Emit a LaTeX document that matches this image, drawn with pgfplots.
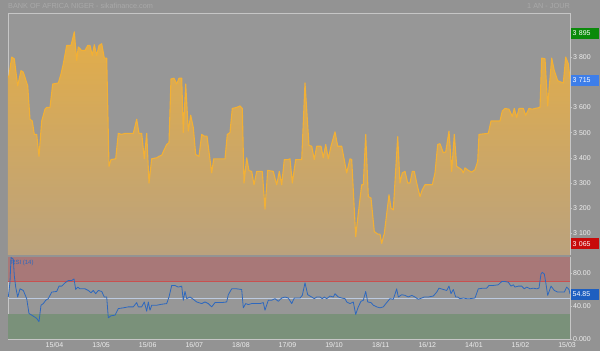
\documentclass[border=0pt]{standalone}
\usepackage{pgfplots}
\pgfplotsset{compat=1.18}
\usepackage{pgfplotstable}
\usepackage{fontspec}
\setmainfont{Liberation Sans}
\definecolor{outerbg}{HTML}{939393}
\definecolor{plotbg}{HTML}{979797}
\definecolor{frame}{HTML}{C6C6C6}
\definecolor{pline}{HTML}{F2B035}
\definecolor{ftop}{HTML}{E3AD48}
\definecolor{fbot}{HTML}{BAA27E}
\definecolor{lbl}{HTML}{EDEDED}
\definecolor{ttl}{HTML}{A9A9A9}
\definecolor{rband}{HTML}{A87878}
\definecolor{gband}{HTML}{7A917A}
\definecolor{rline}{HTML}{C85050}
\definecolor{mline}{HTML}{BCCAE0}
\definecolor{rsiblue}{HTML}{2E68BE}
\definecolor{boxgreen}{HTML}{0A8A0A}
\definecolor{boxblue}{HTML}{3D7EEA}
\definecolor{boxred}{HTML}{C80A0A}
\definecolor{boxrsi}{HTML}{1E5FC0}

\pgfplotstableread{
x y
8 3000
8 3720
9 3726
11.7 3800
14.3 3793
17.7 3686
21 3746
23.3 3740
27.7 3686
30 3553
32.3 3546
34.3 3493
36.7 3493
39 3406
41.7 3546
45 3593
46.7 3600
50 3600
52.7 3693
58.3 3697
61 3733
63.3 3773
66.7 3846
71 3846
74.3 3900
76.7 3786
78.3 3840
81.7 3826
85 3826
87.7 3846
90 3846
92.3 3806
94.3 3849
96.7 3806
99 3846
101.7 3853
104.3 3796
106.7 3796
109 3366
111 3393
115.7 3396
118.3 3497
121.7 3493
125 3497
133.3 3497
136.7 3553
139 3497
141.7 3497
144.3 3396
146.7 3497
149 3300
151.7 3396
156.7 3400
159 3406
161.7 3410
164.3 3433
166.7 3453
169 3460
171 3713
174 3716
176.7 3693
179 3716
181.7 3716
183.3 3500
185.7 3693
188.3 3506
190.7 3569
193.3 3520
195.7 3413
199 3406
201.7 3493
204.3 3486
207 3486
210 3393
211.7 3340
213.7 3396
225 3396
227.3 3493
230 3500
232.3 3596
236.7 3600
240 3606
242.3 3596
244 3300
246.7 3400
249 3349
251.7 3346
254 3293
256.7 3346
262.3 3346
265 3196
267.7 3350
273.3 3346
276.7 3293
279.3 3346
281.7 3293
284.3 3393
288.3 3393
290 3396
292.3 3300
295.7 3393
301.7 3393
305 3697
309 3449
311.7 3446
314.3 3393
316.7 3446
321 3446
323.3 3400
325.7 3453
328.3 3396
331 3446
335 3503
337.7 3446
341.7 3446
346.7 3340
350 3396
351.7 3393
355.7 3087
358.3 3180
361.7 3293
363.3 3293
365.7 3493
368.3 3246
371 3240
374.3 3107
377.7 3097
380 3097
381.7 3060
384.3 3100
389 3253
391 3200
393.3 3193
397.7 3484
400 3300
402.3 3340
405 3346
407.7 3300
410 3300
412.3 3346
414.3 3346
416.7 3300
420 3246
422.3 3273
425 3293
432.3 3293
435 3340
437.7 3453
440 3456
443.3 3420
445.7 3423
449 3506
451.7 3346
454.3 3493
456.7 3366
459 3360
461.7 3353
463.3 3340
465 3360
468.3 3350
471.7 3343
475 3353
477.7 3386
479 3493
488.3 3497
491 3546
500 3546
502.3 3586
505 3596
509 3593
512.3 3564
514.3 3596
516.7 3560
519 3596
523.3 3596
525.7 3569
529 3596
532.3 3593
535 3596
540 3600
541.7 3796
545 3793
547.7 3606
551.7 3796
554.3 3746
557.7 3706
563.3 3697
565.7 3800
568.3 3773
570 3715
570 3000
}\price

\pgfplotstableread{
x y
8.3 51.2
10 69.3
11 99.4
13.3 97.4
14.3 77.3
15.7 63.3
17.7 51.2
20 61.2
23.3 59.2
26.7 49.2
29 31.1
31.7 29.1
34.3 27.1
36.7 25.1
39 21.1
41 41.2
43.3 43.2
45.7 47.2
48.3 49.2
51.7 57.2
56.7 58.0
59 64.5
61.7 64.5
65 68.5
68.3 71.3
71.7 71.3
74 73.3
75.7 60.4
77.7 63.3
80 61.2
85 61.2
88.3 59.2
91 56.4
93.3 59.2
95.7 55.2
98.3 59.2
101.7 58.0
104.3 51.2
106.7 51.2
108.3 25.9
111 28.3
115 29.1
118.3 37.1
123.3 38.0
128.3 39.2
133.3 39.2
136.7 44.4
138.3 39.2
141.7 39.2
144.3 45.2
146.7 33.9
148.3 45.2
150 35.1
151.7 41.2
156.7 41.2
161.7 42.4
166.7 43.2
169 51.2
171.7 65.3
175 65.3
178.3 63.3
181.7 64.5
183.3 47.2
185 58.0
186.7 49.2
190 51.2
193.3 48.4
196.7 45.2
201.7 43.2
205 45.2
208.3 43.2
211.7 39.2
215 44.4
221.7 44.4
226.7 45.2
228.3 54.0
231.7 61.2
236.7 61.2
241.7 60.4
243.3 38.0
245.7 43.2
248.3 42.0
251.7 43.2
256.7 43.2
260 43.2
263.3 44.4
265 35.1
268.3 47.2
271.7 47.2
275 49.2
278.3 46.0
281.7 50.0
285 51.2
288.3 50.0
291.7 43.2
294.3 50.0
300 50.0
302.3 53.2
305 68.5
307.7 54.0
311.7 51.2
314.3 49.2
316.7 51.2
320 51.2
322.3 49.2
324.3 51.2
326.7 49.2
330 52.4
333.3 51.2
335 55.2
338.3 51.2
341.7 50.0
345 49.2
346.7 45.2
350 43.2
353.3 45.2
355.7 29.9
358.3 39.2
361 46.0
363.3 47.2
365.7 58.0
367.7 45.2
371 44.4
373.3 41.2
376.7 39.2
380 38.0
383.3 39.2
386.7 44.4
390 49.2
393.3 48.4
396.7 61.2
398.3 51.2
401.7 54.0
405 53.2
408.3 51.2
411.7 53.2
415 51.2
418.3 48.4
421.7 50.0
424.3 51.2
428.3 51.2
433.3 52.4
436.7 57.2
439 62.0
443.3 60.4
446.7 59.2
449 64.5
451 55.2
453.3 60.4
455.7 51.2
457.7 51.2
460 49.2
463.3 50.0
466.7 49.2
470 49.2
475 50.0
478.3 61.2
483.3 62.0
486.7 62.0
489 65.3
493.3 65.3
498.3 66.1
501.7 70.1
505 70.1
508.3 69.3
511 64.5
513.3 66.1
515 63.3
518.3 64.5
521.7 64.5
524.3 61.2
526.7 63.3
530 61.2
533.3 62.0
536.7 61.2
539 62.0
541 79.3
542.3 81.3
544.3 79.3
545.7 69.3
547.7 53.2
551 64.5
554.3 59.2
557.7 57.2
561.7 57.2
564.3 57.2
566.7 63.3
569 60.4
570 54.85
}\rsi

\begin{document}
\begin{tikzpicture}[x=1pt,y=1pt]
\fill[outerbg] (0,0) rectangle (600,-351);
\node[anchor=west, text=ttl, font=\fontsize{7.3}{8}\selectfont, inner sep=0pt] at (8,-6) {BANK OF AFRICA NIGER - sikafinance.com};
\node[anchor=east, text=ttl, font=\fontsize{7.3}{8}\selectfont, inner sep=0pt] at (570,-6) {1 AN - JOUR};

\begin{axis}[
  at={(8pt,-13pt)}, anchor=north west, scale only axis,
  width=562pt, height=241pt,
  xmin=8, xmax=570, ymin=3018, ymax=3975,
  axis background/.style={fill=plotbg},
  axis line style={draw=frame, line width=0.8pt},
  xtick=\empty,
  ytick={3100,3200,3300,3400,3500,3600,3800},
  yticklabels={3 100,3 200,3 300,3 400,3 500,3 600,3 800},
  yticklabel pos=right, ytick pos=right,
  tick align=outside, major tick length=2pt,
  tick style={draw=frame, line width=0.5pt},
  yticklabel style={font=\fontsize{7}{8}\selectfont, text=lbl, inner sep=1pt},
]
\addplot[draw=none, top color=ftop, bottom color=fbot] table[x=x,y=y] {\price};
\addplot[pline, line width=1.1pt, line join=round, restrict y to domain=3030:4000] table[x=x,y=y] {\price};
\coordinate (bg) at (axis cs:570,3895);
\coordinate (bb) at (axis cs:570,3715);
\coordinate (br) at (axis cs:570,3065);
\end{axis}

\begin{axis}[
  at={(8pt,-257pt)}, anchor=north west, scale only axis,
  width=562pt, height=82pt,
  xmin=8, xmax=570, ymin=0, ymax=100,
  axis background/.style={fill=plotbg},
  axis line style={draw=frame, line width=0.8pt},
  ytick={0,40,80}, yticklabels={0.000,40.00,80.00},
  yticklabel pos=right, ytick pos=right,
  xtick={54.5,101.1,147.7,194.3,240.9,287.5,334.1,380.7,427.3,473.9,520.5,567.1},
  xticklabels={15/04,13/05,15/06,16/07,18/08,17/09,19/10,18/11,16/12,14/01,15/02,15/03},
  xtick pos=bottom,
  tick align=outside, major tick length=2pt,
  tick style={draw=frame, line width=0.5pt},
  xtick style={draw=none},
  yticklabel style={font=\fontsize{7}{8}\selectfont, text=lbl, inner sep=1pt},
  xticklabel style={font=\fontsize{7}{8}\selectfont, text=lbl, inner sep=1pt},
]
\fill[rband] (axis cs:8,70) rectangle (axis cs:570,100);
\fill[gband] (axis cs:8,0) rectangle (axis cs:570,30);
\draw[rline, line width=0.7pt] (axis cs:8,70) -- (axis cs:570,70);
\draw[mline, line width=0.9pt] (axis cs:8,50) -- (axis cs:570,50);
\addplot[rsiblue, line width=0.8pt, line join=round] table[x=x,y=y] {\rsi};
\node[anchor=north west, text=rsiblue, font=\fontsize{6}{7}\selectfont, inner sep=0pt] at (axis cs:11,97) {RSI (14)};
\coordinate (bs) at (axis cs:570,54.85);
\end{axis}

\tikzset{vbox/.style={anchor=west, text=white, font=\fontsize{7}{8}\selectfont, inner sep=1.5pt, minimum height=11pt, text width=25pt, align=left, xshift=1pt}}
\node[vbox, fill=boxgreen] at (bg) {3 895};
\node[vbox, fill=boxblue, yshift=-2pt] at (bb) {3 715};
\node[vbox, fill=boxred, yshift=-1.5pt] at (br) {3 065};
\node[vbox, fill=boxrsi] at (bs) {54.85};

\pgfresetboundingbox
\path[use as bounding box] (0,0) rectangle (600,-351);
\end{tikzpicture}
\end{document}
